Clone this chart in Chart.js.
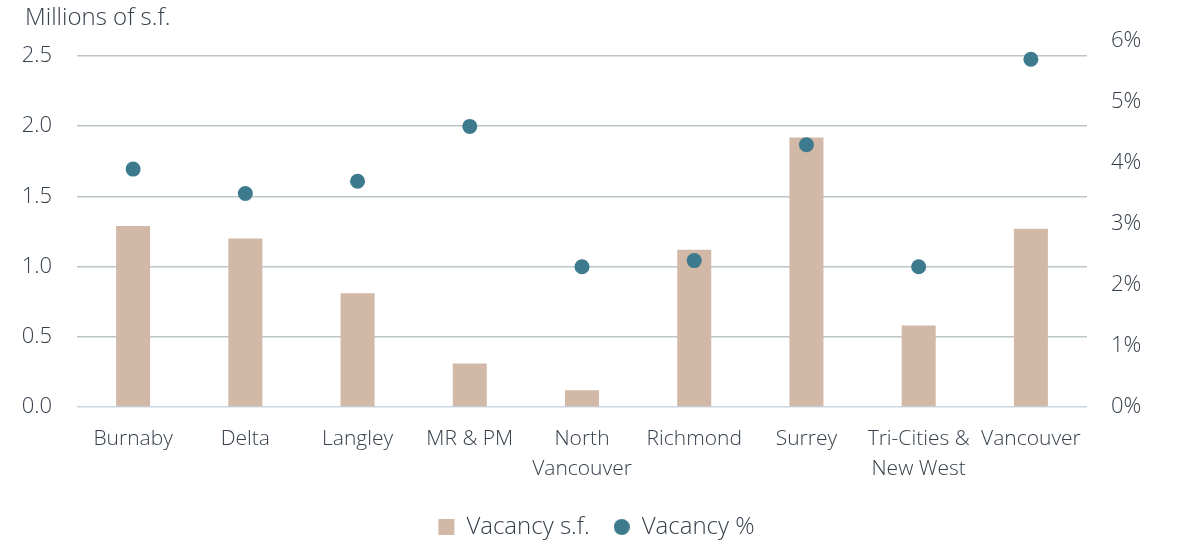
<!DOCTYPE html>
<html>
<head>
<meta charset="utf-8">
<script src="https://cdn.jsdelivr.net/npm/chart.js"></script>
<style>
  html, body { margin: 0; padding: 0; background: #fff; }
  #wrap { width: 1178px; height: 543px; }
</style>
</head>
<body>
<div id="wrap"><canvas id="c" width="1178" height="543"></canvas></div>
<script>
// 地域ごとの空室データ
const categories = ['Burnaby', 'Delta', 'Langley', 'MR & PM', ['North', 'Vancouver'], 'Richmond', 'Surrey', ['Tri-Cities &', 'New West'], 'Vancouver'];
const vacancySf = [1.29, 1.20, 0.81, 0.31, 0.12, 1.12, 1.92, 0.58, 1.27]; // millions of s.f.
const vacancyPct = [3.9, 3.5, 3.7, 4.6, 2.3, 2.4, 4.3, 2.3, 5.7];          // %
const leftTicks = [0, 0.5, 1.0, 1.5, 2.0, 2.5];
const rightTicks = [0, 1, 2, 3, 4, 5, 6];
const unitLabel = 'Millions of s.f.';

const FONT = "'Open Sans', 'Noto Sans', sans-serif";
const TEXT = '#36404b';

// legend marker for the dot series
function dotIcon(size, color) {
  const cv = document.createElement('canvas');
  cv.width = size; cv.height = size;
  const g = cv.getContext('2d');
  g.fillStyle = color;
  g.beginPath();
  g.arc(size / 2, size / 2, size / 2, 0, Math.PI * 2);
  g.fill();
  return cv;
}

// 左上の単位ラベル
const unitTitle = {
  id: 'unitTitle',
  afterDraw(chart) {
    const { ctx } = chart;
    ctx.save();
    ctx.font = `300 24px ${FONT}`;
    ctx.fillStyle = TEXT;
    ctx.textAlign = 'left';
    ctx.textBaseline = 'middle';
    ctx.fillText(unitLabel, 25, 18);
    ctx.restore();
  }
};

const barColor = '#d2b8a6';
const dotColor = '#3e7a8d';

new Chart(document.getElementById('c'), {
  data: {
    labels: categories,
    datasets: [
      {
        type: 'bar',
        label: 'Vacancy s.f.',
        data: vacancySf,
        backgroundColor: barColor,
        yAxisID: 'y',
        categoryPercentage: 1,
        barPercentage: 0.303,
        order: 2
      },
      {
        type: 'line',
        label: 'Vacancy %',
        data: vacancyPct,
        showLine: false,
        yAxisID: 'y2',
        pointRadius: 7.5,
        pointHoverRadius: 7.5,
        pointBorderWidth: 0,
        pointBackgroundColor: dotColor,
        borderColor: dotColor,
        backgroundColor: dotColor,
        order: 1
      }
    ]
  },
  plugins: [unitTitle],
  options: {
    responsive: false,
    animation: false,
    layout: { padding: { left: 15, right: 0, top: 41, bottom: -6 } },
    plugins: {
      tooltip: { enabled: false },
      legend: {
        position: 'bottom',
        labels: {
          color: TEXT,
          font: { family: FONT, size: 24, weight: 300 },
          usePointStyle: true,
          boxWidth: 16,
          boxHeight: 16,
          padding: 24,
          sort: (a, b) => a.datasetIndex - b.datasetIndex,
          generateLabels: (chart) => {
            const items = Chart.defaults.plugins.legend.labels.generateLabels(chart);
            items.forEach(it => {
              it.lineWidth = 0;
              it.pointStyle = it.datasetIndex === 0 ? 'rect' : dotIcon(16, dotColor);
            });
            return items;
          }
        }
      }
    },
    scales: {
      x: {
        offset: true,
        grid: { display: false, drawTicks: false },
        border: { display: false },
        ticks: {
          color: TEXT,
          font: { family: FONT, size: 21, weight: 300, lineHeight: 1.43 },
          padding: 17,
          maxRotation: 0,
          autoSkip: false
        },
        afterFit: (a) => { a.height = 84; }
      },
      y: {
        position: 'left',
        min: 0,
        max: 2.607,
        afterBuildTicks: (a) => { a.ticks = leftTicks.map(v => ({ value: v })); },
        grid: {
          drawTicks: false,
          lineWidth: 1.5,
          color: (ctx) => ctx.tick && ctx.tick.value === 0 ? '#c9d6e0' : '#bcc6c8'
        },
        border: { display: false },
        ticks: {
          color: TEXT,
          font: { family: FONT, size: 22, weight: 300 },
          padding: 25,
          callback: (v) => Number(v).toFixed(1)
        },
        afterFit: (a) => { a.width = 62; }
      },
      y2: {
        position: 'right',
        min: 0,
        max: 6,
        afterBuildTicks: (a) => { a.ticks = rightTicks.map(v => ({ value: v })); },
        grid: { drawOnChartArea: false, drawTicks: false },
        border: { display: false },
        ticks: {
          color: TEXT,
          font: { family: FONT, size: 22, weight: 300 },
          padding: 24,
          callback: (v) => v + '%'
        },
        afterFit: (a) => { a.width = 91; }
      }
    }
  }
});
</script>
</body>
</html>
